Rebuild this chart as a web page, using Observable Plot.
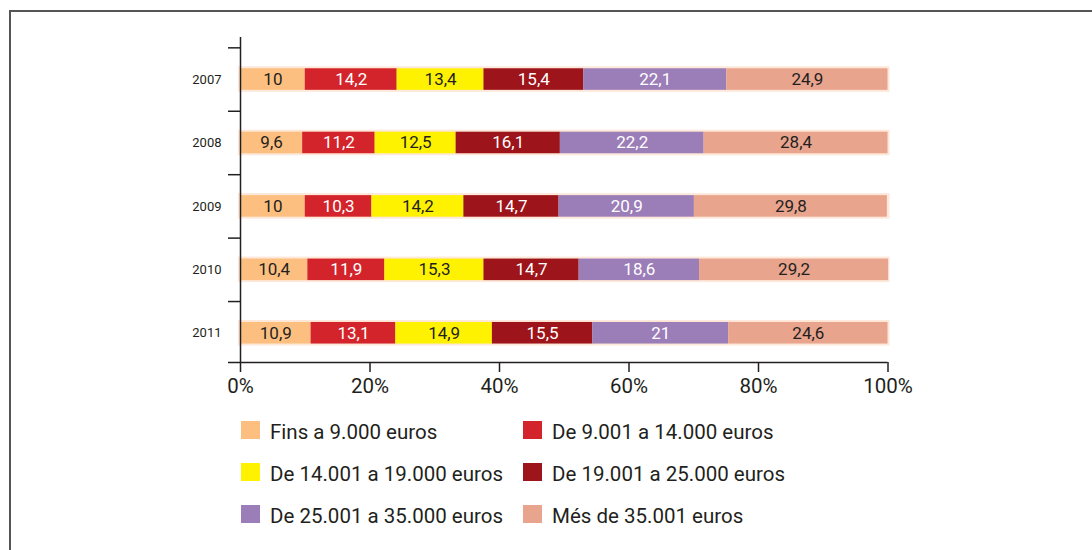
<!DOCTYPE html>
<html>
<head>
<meta charset="utf-8">
<script src="https://cdn.jsdelivr.net/npm/d3@7"></script>
<script src="https://cdn.jsdelivr.net/npm/@observablehq/plot@0.6"></script>
<style>
  html, body { margin: 0; padding: 0; background: #fff; }
  body { width: 1092px; height: 550px; position: relative; overflow: hidden; font-family: Roboto, sans-serif; }
  #frame { position: absolute; left: 9px; top: 10px; width: 1200px; height: 600px; border-top: 2px solid #555; border-left: 2px solid #555; }
  #chart { position: absolute; left: 0; top: 0; }
  #legend { position: absolute; left: 241px; top: 421px; display: grid; grid-template-columns: 282px 300px; grid-auto-rows: 42px; }
  .item { display: flex; align-items: center; height: 18px; font-size: 20.5px; font-weight: 400; color: #231f20; white-space: nowrap; }
  .item span.t { position: relative; top: 2px; }
  .sw { width: 19px; height: 18px; margin-right: 10px; flex: none; }
</style>
</head>
<body>
<div id="frame"></div>
<div id="chart"></div>
<div id="legend"></div>
<script>
const years = [2007, 2008, 2009, 2010, 2011];
const categories = [
  "Fins a 9.000 euros",
  "De 9.001 a 14.000 euros",
  "De 14.001 a 19.000 euros",
  "De 19.001 a 25.000 euros",
  "De 25.001 a 35.000 euros",
  "Més de 35.001 euros"
];
const fins9000 = [10, 9.6, 10, 10.4, 10.9];
const de9001 = [14.2, 11.2, 10.3, 11.9, 13.1];
const de14001 = [13.4, 12.5, 14.2, 15.3, 14.9];
const de19001 = [15.4, 16.1, 14.7, 14.7, 15.5];
const de25001 = [22.1, 22.2, 20.9, 18.6, 21];
const mes35001 = [24.9, 28.4, 29.8, 29.2, 24.6];
const colors = ["#fdbf80", "#d4242b", "#fff200", "#9d141a", "#9b7db8", "#e9a48e"];
const textColors = ["#231f20", "#ffffff", "#231f20", "#ffffff", "#ffffff", "#231f20"];
const xTicks = [0, 20, 40, 60, 80, 100];

const series = [fins9000, de9001, de14001, de19001, de25001, mes35001];
const half = 0.17;

const segs = [];
years.forEach((yr, i) => {
  let acc = 0;
  series.forEach((s, k) => {
    const v = s[i];
    segs.push({year: yr, cat: categories[k], value: v, x1: acc, x2: acc + v, k,
      y1: yr - half, y2: yr + half, label: String(v).replace(".", ",")});
    acc += v;
  });
});
const rows = years.map(yr => ({year: yr, y1: yr - half, y2: yr + half}));
const boundaries = years.map(yr => yr - 0.5);

const yTop = 2006.337, yBottom = 2011.461;

const chart = Plot.plot({
  width: 1092,
  height: 400,
  marginLeft: 240,
  marginRight: 204.5,
  marginTop: 37,
  marginBottom: 38,
  style: {fontFamily: "Roboto, sans-serif", background: "transparent", color: "#231f20"},
  x: {domain: [0, 100], axis: null},
  y: {type: "linear", domain: [yTop, yBottom], reverse: true, axis: null},
  marks: [
    Plot.rectX(rows, {x1: 0, x2: 100, y1: "y1", y2: "y2", fill: "#fde8da", inset: -2}),
    Plot.rectX(segs, {x1: "x1", x2: "x2", y1: "y1", y2: "y2", fill: d => colors[d.k], inset: 0}),
    Plot.text(segs, {x: d => (d.x1 + d.x2) / 2, y: "year", text: "label", fill: d => textColors[d.k], fontSize: 17}),
    Plot.ruleX([0], {stroke: "#231f20", strokeWidth: 1.5}),
    Plot.ruleY([yBottom], {stroke: "#231f20", strokeWidth: 1.5, insetLeft: -12}),
    Plot.axisY(boundaries, {tickSize: 12, tickFormat: () => "", stroke: "#231f20", strokeWidth: 1.5}),
    Plot.axisY(years, {tickSize: 0, tickPadding: 19, fontSize: 13, tickFormat: d => String(d), fill: "#231f20"}),
    Plot.axisX(xTicks, {tickSize: 10, tickPadding: 6, fontSize: 20.5, tickFormat: d => d + "%", stroke: "#231f20", strokeWidth: 1.5, fill: "#231f20"})
  ]
});
document.getElementById("chart").appendChild(chart);

const legend = document.getElementById("legend");
categories.forEach((c, k) => {
  const item = document.createElement("div");
  item.className = "item";
  const sw = document.createElement("span");
  sw.className = "sw";
  sw.style.background = colors[k];
  const t = document.createElement("span");
  t.className = "t";
  t.textContent = c;
  item.appendChild(sw);
  item.appendChild(t);
  legend.appendChild(item);
});
</script>
</body>
</html>
